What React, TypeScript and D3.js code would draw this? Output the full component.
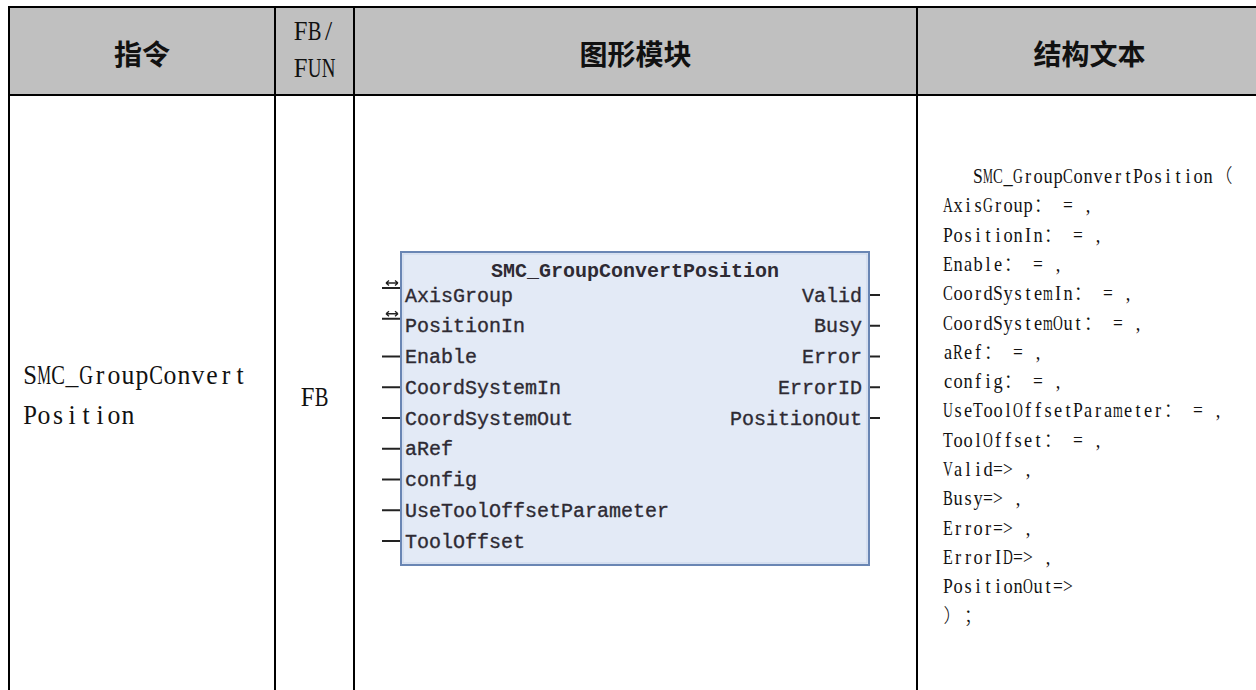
import React from 'react';
import * as d3 from 'd3';

// ---------- data ----------
const headerLabels = ['指令', '图形模块', '结构文本'];
const typeHeaderLines = ['FB/', 'FUN'];
const instructionLines = ['SMC_GroupConvert', 'Position'];
const fbType = 'FB';
const blockTitle = 'SMC_GroupConvertPosition';
const inputPins = [
  'AxisGroup',
  'PositionIn',
  'Enable',
  'CoordSystemIn',
  'CoordSystemOut',
  'aRef',
  'config',
  'UseToolOffsetParameter',
  'ToolOffset',
];
const inOutPins = ['AxisGroup', 'PositionIn'];
const outputPins = ['Valid', 'Busy', 'Error', 'ErrorID', 'PositionOut'];
const codeLines = [
  '   SMC_GroupConvertPosition（',
  'AxisGroup： = ,',
  'PositionIn： = ,',
  'Enable： = ,',
  'CoordSystemIn： = ,',
  'CoordSystemOut： = ,',
  'aRef： = ,',
  'config： = ,',
  'UseToolOffsetParameter： = ,',
  'ToolOffset： = ,',
  'Valid=> ,',
  'Busy=> ,',
  'Error=> ,',
  'ErrorID=> ,',
  'PositionOut=>',
  '）；',
];

// ---------- layout ----------
const W = 1256;
const H = 690;
const colX = [9, 275, 354, 917, 1262];
const tableTop = 7;
const headerBottom = 95;
const box = { x0: 401, x1: 869, y0: 252, y1: 565 };

const SERIF = "'Liberation Serif','DejaVu Serif',serif";
const CJK = "'Noto Sans CJK SC','Noto Sans CJK JP',sans-serif";
const MONO = "'Liberation Mono','DejaVu Sans Mono',monospace";

const isWide = (c: string) => c.charCodeAt(0) > 0x2e80;

let ctx: CanvasRenderingContext2D | null = null;
function measure(c: string, size: number) {
  if (!ctx && typeof document !== 'undefined') {
    ctx = document.createElement('canvas').getContext('2d');
  }
  if (!ctx) return size * 0.5;
  ctx.font = `${size}px 'Liberation Serif'`;
  return ctx.measureText(c).width;
}

// SimSun-like text: every character sits in a fixed half-width cell, wide glyphs narrowed to fit
function SimText({
  text,
  x,
  y,
  size,
  anchor = 'start',
}: {
  text: string;
  x: number;
  y: number;
  size: number;
  anchor?: string;
}) {
  const cell = size / 2;
  const chars = Array.from(text);
  let total = 0;
  const cells = chars.map((c) => {
    const w = isWide(c) ? 2 * cell : cell;
    const cx = total + w / 2;
    total += w;
    return { c, cx, wide: isWide(c) };
  });
  const start = anchor === 'middle' ? x - total / 2 : x;
  return (
    <g transform={`translate(${start},${y})`}>
      {cells.map((d, i) => {
        if (d.c === ' ') return null;
        if (d.wide) {
          return (
            <text
              key={i}
              x={d.cx}
              y={0}
              fontSize={size * 0.95}
              fontFamily={CJK}
              fontWeight={300}
              textAnchor="middle"
              fill="#111"
            >
              {d.c}
            </text>
          );
        }
        const nat = measure(d.c, size);
        const sx = Math.min(0.92, (cell * 0.98) / Math.max(nat, 1));
        return (
          <text
            key={i}
            x={d.cx / sx}
            y={0}
            transform={`scale(${sx},1)`}
            fontSize={size}
            fontFamily={SERIF}
            textAnchor="middle"
            fill="#111"
          >
            {d.c}
          </text>
        );
      })}
    </g>
  );
}

export default function App() {
  const pinY = d3.scaleLinear().domain([0, inputPins.length - 1]).range([295, 541]);
  const codeY = d3.scaleLinear().domain([0, codeLines.length - 1]).range([183, 622.5]);
  const instrY = d3.scaleLinear().domain([0, 1]).range([384, 424]);
  const headerCenters = [
    (colX[0] + colX[1]) / 2,
    (colX[2] + colX[3]) / 2,
    (colX[3] + colX[4]) / 2,
  ];
  const typeCx = (colX[1] + colX[2]) / 2;
  const typeY = d3.scaleLinear().domain([0, 1]).range([40, 77]);
  const boxCx = (box.x0 + box.x1) / 2;

  return (
    <svg
      width={W}
      height={H}
      style={{ position: 'absolute', left: 0, top: 0, background: '#fff' }}
    >
      <rect x={0} y={0} width={W} height={H} fill="#fff" />
      {/* header background */}
      <rect x={colX[0]} y={tableTop} width={W - colX[0]} height={headerBottom - tableTop} fill="#c0c0c0" />

      {/* header text */}
      {headerLabels.map((h, i) => (
        <text
          key={h}
          x={headerCenters[i]}
          y={53}
          fontSize={28}
          fontFamily={CJK}
          fontWeight={700}
          textAnchor="middle"
          dominantBaseline="central"
          fill="#111"
        >
          {h}
        </text>
      ))}
      {typeHeaderLines.map((t, i) => (
        <SimText key={t} text={t} x={typeCx} y={typeY(i)} size={28} anchor="middle" />
      ))}

      {/* body: instruction column */}
      {instructionLines.map((t, i) => (
        <SimText key={t} text={t} x={23} y={instrY(i)} size={28} />
      ))}
      <SimText text={fbType} x={typeCx} y={406} size={28} anchor="middle" />

      {/* function block diagram */}
      <g>
        {inputPins.map((p, i) => {
          const y = pinY(i);
          const io = inOutPins.includes(p);
          const ly = io ? y - 7 : y;
          return (
            <g key={p}>
              <line x1={382} x2={box.x0} y1={ly} y2={ly} stroke="#222" strokeWidth={2} />
              {io && (
                <path
                  d={`M386,${y - 12}L398,${y - 12}M386,${y - 12}l3,-2.5M386,${y - 12}l3,2.5M398,${y - 12}l-3,-2.5M398,${y - 12}l-3,2.5`}
                  stroke="#222"
                  strokeWidth={1.3}
                  fill="none"
                />
              )}
            </g>
          );
        })}
        {outputPins.map((p, i) => (
          <line key={p} x1={box.x1} x2={880} y1={pinY(i)} y2={pinY(i)} stroke="#222" strokeWidth={2} />
        ))}
        <rect
          x={box.x0}
          y={box.y0}
          width={box.x1 - box.x0}
          height={box.y1 - box.y0}
          fill="#e3eaf6"
          stroke="#6a86b4"
          strokeWidth={2}
        />
        <rect
          x={box.x0 + 2}
          y={box.y0 + 2}
          width={box.x1 - box.x0 - 4}
          height={box.y1 - box.y0 - 4}
          fill="none"
          stroke="#c9d5ea"
          strokeWidth={1}
        />
        <text
          x={boxCx}
          y={277}
          fontSize={20}
          fontFamily={MONO}
          fontWeight={700}
          textAnchor="middle"
          fill="#2e2a33"
        >
          {blockTitle}
        </text>
        {inputPins.map((p, i) => (
          <text
            key={p}
            x={405}
            y={pinY(i) + 6.5}
            fontSize={20}
            fontFamily={MONO}
            fill="#2e2a33"
            stroke="#2e2a33"
            strokeWidth={0.35}
          >
            {p}
          </text>
        ))}
        {outputPins.map((p, i) => (
          <text
            key={p}
            x={862}
            y={pinY(i) + 6.5}
            fontSize={20}
            fontFamily={MONO}
            textAnchor="end"
            fill="#2e2a33"
            stroke="#2e2a33"
            strokeWidth={0.35}
          >
            {p}
          </text>
        ))}
      </g>

      {/* structured text */}
      {codeLines.map((t, i) => (
        <SimText key={i} text={t} x={943} y={codeY(i)} size={20} />
      ))}

      {/* table grid lines */}
      <line x1={colX[0] - 1} x2={W} y1={tableTop} y2={tableTop} stroke="#000" strokeWidth={2} />
      <line x1={colX[0] - 1} x2={W} y1={headerBottom} y2={headerBottom} stroke="#000" strokeWidth={2} />
      {colX.slice(0, 4).map((x) => (
        <line key={x} x1={x} x2={x} y1={tableTop - 1} y2={H} stroke="#000" strokeWidth={2} />
      ))}
    </svg>
  );
}
